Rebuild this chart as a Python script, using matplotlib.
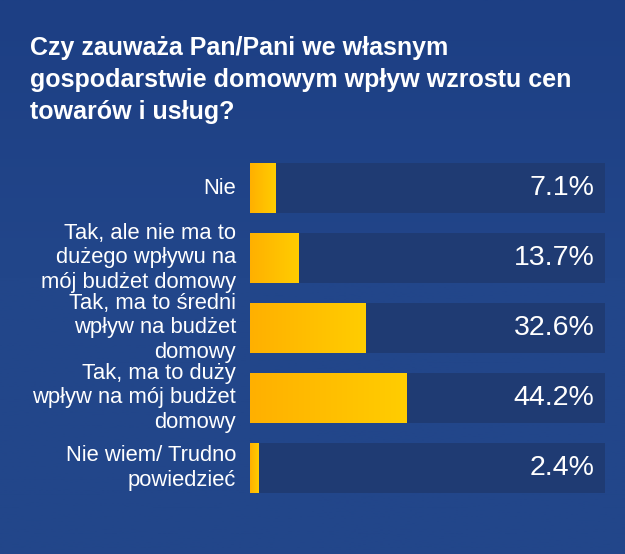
import matplotlib.pyplot as plt
import numpy as np
from matplotlib.colors import LinearSegmentedColormap

plt.rcParams['font.family'] = ['Liberation Sans', 'DejaVu Sans']

# === Data ===
title = "Czy zauważa Pan/Pani we własnym\ngospodarstwie domowym wpływ wzrostu cen\ntowarów i usług?"
categories = [
    "Nie",
    "Tak, ale nie ma to\ndużego wpływu na\nmój budżet domowy",
    "Tak, ma to średni\nwpływ na budżet\ndomowy",
    "Tak, ma to duży\nwpływ na mój budżet\ndomowy",
    "Nie wiem/ Trudno\npowiedzieć",
]
values = [7.1, 13.7, 32.6, 44.2, 2.4]
value_labels = ["7.1%", "13.7%", "32.6%", "44.2%", "2.4%"]

W, H = 625, 554
fig = plt.figure(figsize=(W / 100, H / 100), dpi=100)

# === Background with a soft vertical gradient ===
bg = fig.add_axes([0, 0, 1, 1])
bg_cmap = LinearSegmentedColormap.from_list('bg', ['#1d3f84', '#22468a', '#22468a'])
bg.imshow(np.linspace(0, 1, 256).reshape(-1, 1), aspect='auto', cmap=bg_cmap,
          extent=[0, 1, 0, 1], origin='upper')
bg.set_xlim(0, 1)
bg.set_ylim(0, 1)
bg.axis('off')

fig.text(30 / W, 1 - 36 / H, title, color='white', fontsize=18, fontweight='bold',
         va='top', ha='left', linespacing=1.42)

# === Bars ===
ax = fig.add_axes([250 / W, (H - 503) / H, 355 / W, 350 / H])
ax.set_xlim(0, 100)
ax.set_ylim(len(values) - 0.5, -0.5)
ax.axis('off')

bar_h = 50 / 70
y = np.arange(len(values))
ax.barh(y, [100] * len(values), height=bar_h, color='#1f3b73', zorder=1)
bars = ax.barh(y, values, height=bar_h, color='none', zorder=2)

gold = LinearSegmentedColormap.from_list('gold', ['#ffb000', '#ffcd00'])
grad = np.linspace(0, 1, 256).reshape(1, -1)
for b in bars:
    x0, y0, w, h = b.get_x(), b.get_y(), b.get_width(), b.get_height()
    im = ax.imshow(grad, aspect='auto', cmap=gold, extent=[x0, x0 + w, y0 + h, y0],
                   zorder=2)
    im.set_clip_path(b)

ax.set_xlim(0, 100)
ax.set_ylim(len(values) - 0.5, -0.5)

for yi, lab in zip(y, value_labels):
    ax.text(97, yi, lab, color='white', fontsize=20.5, ha='right', va='center', zorder=3)

for yi, cat in zip(y, categories):
    ax.text(-3.9, yi, cat, color='white', fontsize=15.8, ha='right', va='center',
            linespacing=1.22, clip_on=False)

fig.savefig('out.png', dpi=100)
